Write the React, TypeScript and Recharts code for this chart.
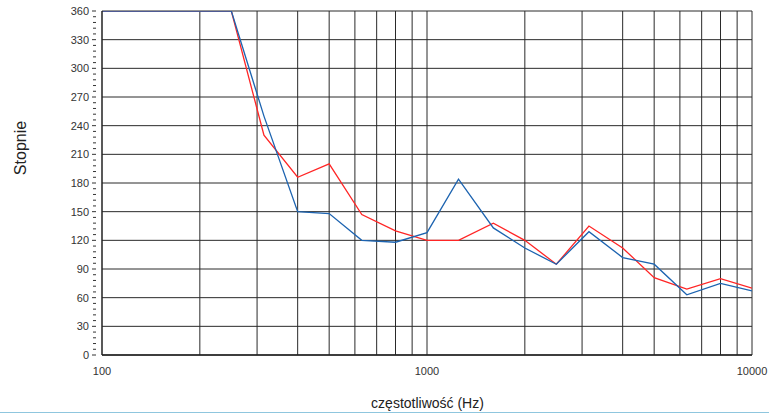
import React from 'react';
import { LineChart, Line, XAxis, YAxis, ReferenceLine } from 'recharts';

// third-octave frequencies (Hz)
const freqs = [100, 125, 160, 200, 250, 315, 400, 500, 630, 800, 1000, 1250, 1600, 2000, 2500, 3150, 4000, 5000, 6300, 8000, 10000];
// phase, degrees (values above the scale are drawn at 360)
const redPhase = [360, 360, 360, 360, 360, 230, 186, 200, 147, 130, 120, 120, 138, 120, 95, 135, 112, 81, 69, 80, 70];
const bluePhase = [360, 360, 360, 360, 360, 250, 150, 148, 120, 118, 128, 184, 133, 112, 95, 129, 102, 95, 63, 75, 67];

const xTicks = [100, 1000, 10000];
const xGrid = [200, 300, 400, 500, 600, 700, 800, 900, 1000, 2000, 3000, 4000, 5000, 6000, 7000, 8000, 9000, 10000];
const yMajor = [0, 30, 60, 90, 120, 150, 180, 210, 240, 270, 300, 330, 360];
const yMinor = Array.from({ length: 61 }, (_, i) => i * 6);

const data = freqs.map((f, i) => ({ f, red: redPhase[i], blue: bluePhase[i] }));

const FONT = '"Liberation Sans", Arial, sans-serif';

const YTick = (props: any) => {
    const { x, y, payload } = props;
    const major = payload.value % 30 === 0;
    return (
        <g>
            <line x1={x + 8} x2={x + 8 - (major ? 4 : 3)} y1={y} y2={y} stroke="#333" strokeWidth={1} />
            {major && (
                <text x={x + 1} y={y} dy={4} textAnchor="end" fontSize={11} fill="#333" fontFamily={FONT}>
                    {payload.value}
                </text>
            )}
        </g>
    );
};

const App: React.FC = () => {
    return (
        <div style={{ position: 'absolute', left: 0, top: 0, width: 769, height: 414, background: '#fff', fontFamily: FONT }}>
            <LineChart width={769} height={414} data={data} margin={{ top: 11, right: 17, bottom: 0, left: 0 }}>
                {xGrid.map((v) => (
                    <ReferenceLine key={'x' + v} x={v} stroke="#2a2a2a" strokeWidth={1} ifOverflow="visible" />
                ))}
                {yMajor.map((v) => (
                    <ReferenceLine key={'y' + v} y={v} stroke="#2a2a2a" strokeWidth={1} ifOverflow="visible" />
                ))}
                <XAxis
                    dataKey="f"
                    type="number"
                    scale="log"
                    domain={[100, 10000]}
                    ticks={xTicks}
                    tickLine={false}
                    axisLine={{ stroke: '#222', strokeWidth: 1.5 }}
                    tick={{ fontSize: 11, fill: '#333', fontFamily: FONT }}
                    tickMargin={6}
                    height={59}
                    allowDataOverflow
                />
                <YAxis
                    type="number"
                    domain={[0, 360]}
                    ticks={yMinor}
                    interval={0}
                    tickLine={false}
                    axisLine={{ stroke: '#222', strokeWidth: 1.5 }}
                    tick={<YTick />}
                    tickMargin={8}
                    width={102}
                    allowDataOverflow
                />
                <Line type="linear" dataKey="red" stroke="#ff2525" strokeWidth={1.3} dot={false} isAnimationActive={false} />
                <Line type="linear" dataKey="blue" stroke="#1c63b0" strokeWidth={1.3} dot={false} isAnimationActive={false} />
            </LineChart>
            <div style={{ position: 'absolute', left: 0, width: 769, top: 395, textAlign: 'center', fontSize: 14, color: '#222', paddingLeft: 86, boxSizing: 'border-box' }}>
                częstotliwość (Hz)
            </div>
            <div style={{ position: 'absolute', left: 21, top: 148, transform: 'translate(-50%, -50%) rotate(-90deg)', fontSize: 16, color: '#222', whiteSpace: 'nowrap' }}>
                Stopnie
            </div>
            <div style={{ position: 'absolute', left: 0, top: 412, width: 769, height: 1, background: '#8fc6de' }} />
        </div>
    );
};

export default App;
